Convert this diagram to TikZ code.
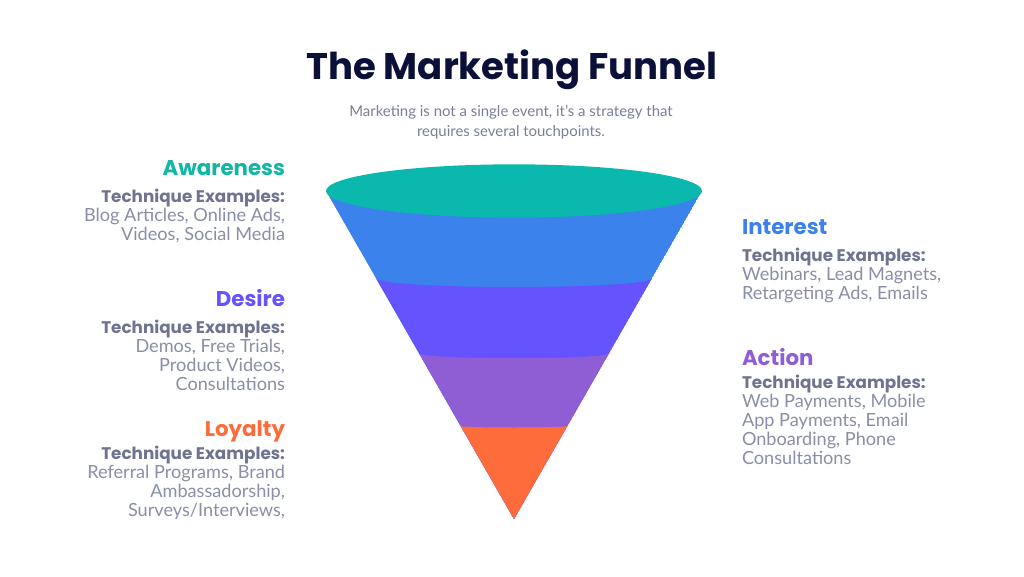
\documentclass[tikz,border=0pt]{standalone}
\usepackage{fontspec}
\setmainfont{Poppins}
\newfontfamily\lato{Lato}
\definecolor{cTeal}{HTML}{0AB8AE}
\definecolor{cTealT}{HTML}{10B7A4}
\definecolor{cBlue}{HTML}{3B82EC}
\definecolor{cPurple}{HTML}{6553FE}
\definecolor{cViolet}{HTML}{8F5ED5}
\definecolor{cOrange}{HTML}{FF6C3B}
\definecolor{cNavy}{HTML}{0B1038}
\definecolor{cSub}{HTML}{7A7F99}
\definecolor{cTech}{HTML}{6F7390}
\definecolor{cBody}{HTML}{8A8EA8}
\tikzset{
  txt/.style={inner sep=0pt, outer sep=0pt},
  title/.style={txt, anchor=base, text=cNavy, font=\fontsize{27.8}{30}\selectfont\bfseries},
  subtitle/.style={txt, anchor=base, text=cSub, font=\lato\fontsize{11.2}{13}\selectfont},
  heading/.style={txt, font=\fontsize{16}{18}\selectfont\bfseries},
  tech/.style={txt, text=cTech, font=\fontsize{12.6}{14}\selectfont\bfseries},
  body/.style={txt, text=cBody, font=\lato\fontsize{13.6}{15}\selectfont},
  L/.style={anchor=base east},
  R/.style={anchor=base west}
}
\begin{document}
\begin{tikzpicture}[x=0.75pt,y=-0.75pt]
\useasboundingbox (0,0) rectangle (1024,577);
\fill[white] (0,0) rectangle (1024,577);

% funnel
\coordinate (apex) at (514,519);
\coordinate (tl) at (326,191);
\coordinate (tr) at (702,191);
\begin{scope}
  \clip (tl) -- (apex) -- (tr) -- cycle;
  \fill[cBlue] (tl) -- (apex) -- (tr) -- cycle;
  \fill[cPurple] (300,278) -- (376,278) .. controls (376,290) and (652,290) .. (652,278) -- (730,278) -- (730,530) -- (300,530) -- cycle;
  \fill[cViolet] (300,353) -- (418,353) .. controls (418,360) and (610,360) .. (610,353) -- (730,353) -- (730,530) -- (300,530) -- cycle;
  \fill[cOrange] (300,426) -- (461,426) .. controls (461,428) and (567,428) .. (567,426) -- (730,426) -- (730,530) -- (300,530) -- cycle;
\end{scope}
\fill[cTeal] (514,191) ellipse [x radius=141pt, y radius=20pt];

% title
\node[title] (ttl) at (512,80) {The Marketing Funnel};
\node[subtitle] (sub1) at (511,117) {Marketing is not a single event, it’s a strategy that};
\node[subtitle] (sub2) at (511,137) {requires several touchpoints.};

% Awareness
\node[heading, L, text=cTealT] (awH) at (285,176) {Awareness};
\node[tech, L] (awT) at (285,203) {Technique Examples:};
\node[body, L] (aw1) at (285,222) {Blog Articles, Online Ads,};
\node[body, L] (aw2) at (285,241) {Videos, Social Media};

% Desire
\node[heading, L, text=cPurple] (deH) at (285,306) {Desire};
\node[tech, L] (deT) at (285,333) {Technique Examples:};
\node[body, L] (de1) at (285,352) {Demos, Free Trials,};
\node[body, L] (de2) at (285,371) {Product Videos,};
\node[body, L] (de3) at (285,390) {Consultations};

% Loyalty
\node[heading, L, text=cOrange] (loH) at (285,436) {Loyalty};
\node[tech, L] (loT) at (285,459) {Technique Examples:};
\node[body, L] (lo1) at (285,478) {Referral Programs, Brand};
\node[body, L] (lo2) at (285,497) {Ambassadorship,};
\node[body, L] (lo3) at (285,516) {Surveys/Interviews,};

% Interest
\node[heading, R, text=cBlue] (inH) at (742,235) {Interest};
\node[tech, R] (inT) at (742,262) {Technique Examples:};
\node[body, R] (in1) at (742,281) {Webinars, Lead Magnets,};
\node[body, R] (in2) at (742,300) {Retargeting Ads, Emails};

% Action
\node[heading, R, text=cViolet] (acH) at (742,365) {Action};
\node[tech, R] (acT) at (742,388) {Technique Examples:};
\node[body, R] (ac1) at (742,407) {Web Payments, Mobile};
\node[body, R] (ac2) at (742,426) {App Payments, Email};
\node[body, R] (ac3) at (742,445) {Onboarding, Phone};
\node[body, R] (ac4) at (742,464) {Consultations};
\end{tikzpicture}
\end{document}
